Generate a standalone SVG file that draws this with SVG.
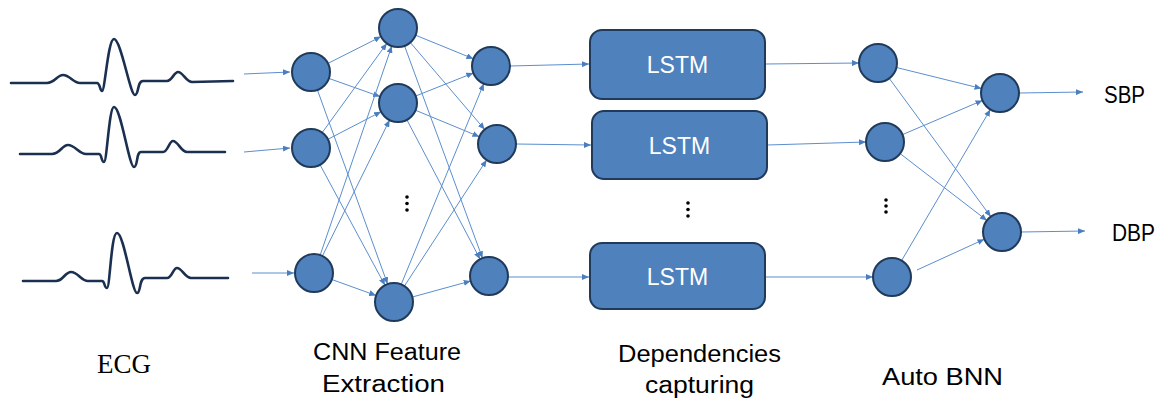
<svg xmlns="http://www.w3.org/2000/svg" width="1160" height="402" viewBox="0 0 1160 402">
<defs>
<marker id="ah" markerUnits="userSpaceOnUse" markerWidth="8" markerHeight="6" refX="7" refY="3" orient="auto">
<path d="M0,0 L7,3 L0,6 Z" fill="#4A7EBF"/>
</marker>
<style>
.n{fill:#4F81BD;stroke:#1F3A5A;stroke-width:2}
.c{stroke:#5B8ECF;stroke-width:1;fill:none;marker-end:url(#ah)}
.ecg{fill:none;stroke:#1B3050;stroke-width:2.6;stroke-linejoin:round;stroke-linecap:round}
.lbl{font-family:"Liberation Sans",Arial,sans-serif;fill:#000}
.lstm{font-family:"Liberation Sans",Arial,sans-serif;fill:#fff;font-size:23px;text-anchor:middle}
.box{fill:#4F81BD;stroke:#1F3A5A;stroke-width:2}
</style>
</defs>
<rect width="1160" height="402" fill="#fff"/>

<g id="ecg">
<path class="ecg" d="M11,83 L47,83 C55,83 57,75 63,75 C70,75 73,83 80,83 L97,83 C100,83 100,91 102,91 C105,91 108,39 114,39 C121,39 130,95 135,95 C139,95 137,81 143,81 L167,81 C172,81 174,72 178,72 C183,72 186,82 192,82 L233,81"/>
<path class="ecg" d="M20,154 L52,154 C60,154 62,145 68,145 C75,145 79,154 86,154 L99,154 C102,154 101,162 104,162 C107,162 109,107 114,107 C121,107 129,167 134,167 C138,167 136,152 141,152 L163,152 C168,152 169,141 173,141 C178,141 181,152 187,152 L225,152"/>
<path class="ecg" d="M23,281 L56,281 C63,281 65,272 71,272 C78,272 81,281 88,281 L102,281 C105,281 104,288 107,288 C110,288 111,233 117,233 C124,233 132,293 137,293 C141,293 139,278 145,278 L167,278 C172,278 173,268 177,268 C182,268 185,278 191,278 L228,278"/>
</g>

<g id="connectors">
<line class="c" x1="244" y1="74" x2="290" y2="72"/>
<line class="c" x1="244" y1="152" x2="290" y2="148"/>
<line class="c" x1="252" y1="273" x2="294" y2="273"/>

<line class="c" x1="328" y1="63.4" x2="381" y2="36.6"/>
<line class="c" x1="328.9" y1="78.4" x2="380.1" y2="96.6"/>
<line class="c" x1="317.4" y1="89.9" x2="387.6" y2="284.1"/>
<line class="c" x1="322.2" y1="132.6" x2="386.8" y2="43.4"/>
<line class="c" x1="327.9" y1="139.3" x2="381.1" y2="111.7"/>
<line class="c" x1="320" y1="164.7" x2="385" y2="285.3"/>
<line class="c" x1="320.2" y1="255" x2="391.8" y2="46"/>
<line class="c" x1="322.4" y1="256" x2="389.6" y2="120"/>
<line class="c" x1="331.9" y1="279.5" x2="376.1" y2="295.5"/>

<line class="c" x1="415.6" y1="35.2" x2="473.4" y2="58.8"/>
<line class="c" x1="410.3" y1="42.5" x2="484.7" y2="129.5"/>
<line class="c" x1="404.5" y1="45.8" x2="482.5" y2="258.2"/>
<line class="c" x1="415.7" y1="96" x2="473.3" y2="73"/>
<line class="c" x1="415.6" y1="110.3" x2="479.4" y2="136.7"/>
<line class="c" x1="406.9" y1="119.8" x2="480.1" y2="259.2"/>
<line class="c" x1="401.2" y1="284.4" x2="483.8" y2="83.6"/>
<line class="c" x1="404.4" y1="286.1" x2="486.6" y2="160"/>
<line class="c" x1="412.3" y1="297" x2="470.7" y2="281"/>

<line class="c" x1="510" y1="66" x2="589" y2="64"/>
<line class="c" x1="516" y1="144" x2="591" y2="145"/>
<line class="c" x1="508" y1="277" x2="589" y2="277"/>

<line class="c" x1="765" y1="64" x2="859" y2="63"/>
<line class="c" x1="767" y1="145" x2="866" y2="142"/>
<line class="c" x1="765" y1="277" x2="873" y2="277"/>

<line class="c" x1="896.5" y1="67.5" x2="981.5" y2="88.5"/>
<line class="c" x1="889.2" y1="78.3" x2="990.8" y2="216.7"/>
<line class="c" x1="902.5" y1="134.6" x2="982.5" y2="100.4"/>
<line class="c" x1="900.1" y1="153.6" x2="986.9" y2="220.4"/>
<line class="c" x1="901.6" y1="260.6" x2="990.4" y2="109.4"/>
<line class="c" x1="917" y1="270" x2="984.4" y2="239.2"/>

<line class="c" x1="1019" y1="93" x2="1083" y2="92"/>
<line class="c" x1="1021" y1="232" x2="1085" y2="231"/>
</g>

<g id="cnn-in-1"><circle class="n" cx="311" cy="72" r="19"/></g>
<g id="cnn-in-2"><circle class="n" cx="311" cy="148" r="19"/></g>
<g id="cnn-in-3"><circle class="n" cx="314" cy="273" r="19"/></g>
<g id="cnn-h-1"><circle class="n" cx="398" cy="28" r="19"/></g>
<g id="cnn-h-2"><circle class="n" cx="398" cy="103" r="19"/></g>
<g id="cnn-h-3"><circle class="n" cx="394" cy="302" r="19"/></g>
<g id="cnn-out-1"><circle class="n" cx="491" cy="66" r="19"/></g>
<g id="cnn-out-2"><circle class="n" cx="497" cy="144" r="19"/></g>
<g id="cnn-out-3"><circle class="n" cx="489" cy="276" r="19"/></g>

<g id="dots-cnn" fill="#000"><circle cx="407" cy="197" r="1.8"/><circle cx="407" cy="203.5" r="1.8"/><circle cx="407" cy="210" r="1.8"/></g>

<g id="lstm-1"><rect class="box" x="590" y="30" width="175" height="69" rx="12"/><text class="lstm" x="677.5" y="73">LSTM</text></g>
<g id="lstm-2"><rect class="box" x="592" y="111" width="175" height="68" rx="12"/><text class="lstm" x="679.5" y="154">LSTM</text></g>
<g id="lstm-3"><rect class="box" x="590" y="243" width="175" height="66" rx="12"/><text class="lstm" x="677.5" y="285">LSTM</text></g>

<g id="dots-lstm" fill="#000"><circle cx="688" cy="203" r="1.8"/><circle cx="688" cy="209.5" r="1.8"/><circle cx="688" cy="216" r="1.8"/></g>

<g id="bnn-1"><circle class="n" cx="878" cy="63" r="19"/></g>
<g id="bnn-2"><circle class="n" cx="885" cy="142" r="19"/></g>
<g id="bnn-3"><circle class="n" cx="892" cy="277" r="19"/></g>
<g id="dots-bnn" fill="#000"><circle cx="886" cy="200" r="1.8"/><circle cx="886" cy="206" r="1.8"/><circle cx="886" cy="212" r="1.8"/></g>
<g id="out-sbp"><circle class="n" cx="1000" cy="93" r="19"/></g>
<g id="out-dbp"><circle class="n" cx="1002" cy="232" r="19"/></g>

<g id="labels">
<text class="lbl" x="1104" y="103" font-size="24" textLength="41" lengthAdjust="spacingAndGlyphs">SBP</text>
<text class="lbl" x="1112" y="241" font-size="24" textLength="43" lengthAdjust="spacingAndGlyphs">DBP</text>
<text x="97" y="373" font-family="'Liberation Serif','Times New Roman',serif" font-size="27" textLength="54" lengthAdjust="spacingAndGlyphs">ECG</text>
<text class="lbl" x="313" y="360" font-size="23" textLength="148" lengthAdjust="spacingAndGlyphs">CNN Feature</text>
<text class="lbl" x="322" y="392" font-size="23" textLength="123" lengthAdjust="spacingAndGlyphs">Extraction</text>
<text class="lbl" x="618" y="362" font-size="23" textLength="163" lengthAdjust="spacingAndGlyphs">Dependencies</text>
<text class="lbl" x="645" y="393" font-size="23" textLength="109" lengthAdjust="spacingAndGlyphs">capturing</text>
<text class="lbl" x="882" y="385" font-size="23" textLength="121" lengthAdjust="spacingAndGlyphs">Auto BNN</text>
</g>
</svg>
